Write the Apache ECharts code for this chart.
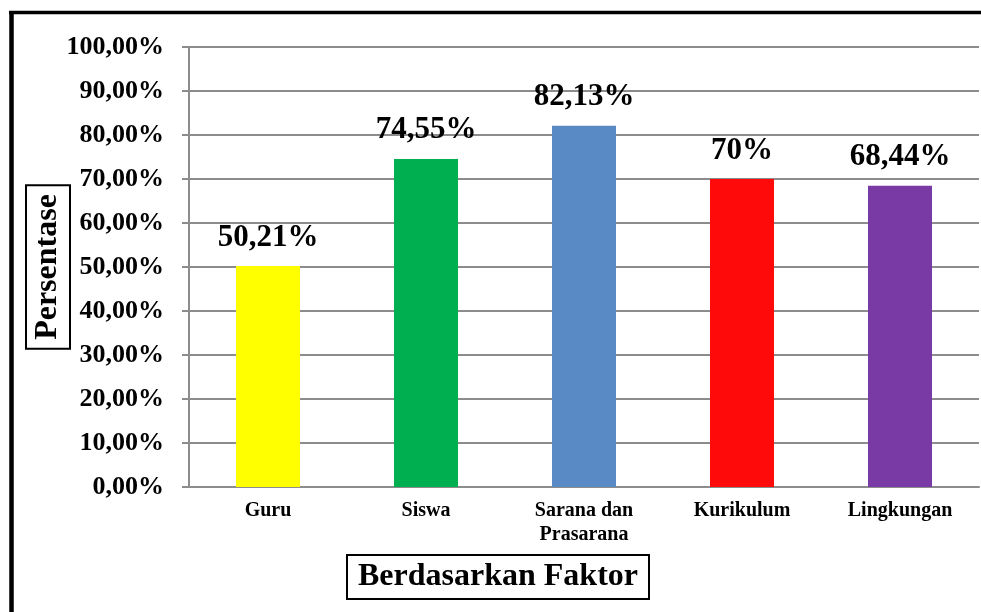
<!DOCTYPE html>
<html>
<head>
<meta charset="utf-8">
<script src="https://cdn.jsdelivr.net/npm/echarts@6/dist/echarts.min.js"></script>
<style>
html,body{margin:0;padding:0;background:#fff;}
#chart{width:981px;height:612px;}
</style>
</head>
<body>
<div id="chart"></div>
<script>
const categories = ['Guru', 'Siswa', 'Sarana dan\nPrasarana', 'Kurikulum', 'Lingkungan'];
const values = [50.21, 74.55, 82.13, 70, 68.44];
const barColors = ['#FFFF00', '#00B050', '#5A8AC6', '#FF0A0A', '#7A3AA6'];
const yTitle = 'Persentase';
const xTitle = 'Berdasarkan Faktor';

const FONT = '"Liberation Serif", "Times New Roman", serif';
const chart = echarts.init(document.getElementById('chart'), null, {renderer: 'canvas'});

chart.setOption({
  animation: false,
  backgroundColor: '#fff',
  title: {
    text: xTitle,
    left: 347,
    top: 555,
    padding: [6, 11],
    borderColor: '#000',
    borderWidth: 2,
    textStyle: {fontFamily: FONT, fontSize: 32, fontWeight: 'bold', color: '#000'}
  },
  grid: {left: 189, right: 2, top: 47, bottom: 125, containLabel: false},
  xAxis: {
    type: 'category',
    data: categories,
    axisLine: {lineStyle: {color: '#8c8c8c', width: 2}},
    axisTick: {show: false},
    axisLabel: {
      interval: 0, margin: 12,
      fontFamily: FONT, fontSize: 20, fontWeight: 'bold', color: '#000', lineHeight: 24
    }
  },
  yAxis: {
    type: 'value',
    min: 0, max: 100, interval: 10,
    name: yTitle,
    nameLocation: 'middle',
    nameRotate: 90,
    nameGap: 119,
    nameMoveOverlap: false,
    nameTextStyle: {
      fontFamily: FONT, fontSize: 32, fontWeight: 'bold', color: '#000',
      borderColor: '#000', borderWidth: 2, padding: [6, 9]
    },
    axisLine: {show: true, lineStyle: {color: '#8c8c8c', width: 2}},
    axisTick: {show: true, length: 7, lineStyle: {color: '#8c8c8c', width: 2}},
    splitLine: {lineStyle: {color: '#8c8c8c', width: 2}},
    axisLabel: {
      margin: 25,
      fontFamily: FONT, fontSize: 26, fontWeight: 'bold', color: '#000',
      formatter: v => v.toFixed(2).replace('.', ',') + '%'
    }
  },
  series: [{
    type: 'bar',
    barWidth: 64,
    data: values.map((v, i) => ({value: v, itemStyle: {color: barColors[i]}})),
    label: {
      show: true, position: 'top', distance: 13,
      fontFamily: FONT, fontSize: 31, fontWeight: 'bold', color: '#000',
      formatter: p => String(p.value).replace('.', ',') + '%'
    }
  }],
  graphic: [
    {type: 'line', shape: {x1: 9, y1: 12.5, x2: 981, y2: 12.5}, style: {stroke: '#000', lineWidth: 3.5}, z: 100},
    {type: 'line', shape: {x1: 11.5, y1: 11, x2: 11.5, y2: 612}, style: {stroke: '#000', lineWidth: 4.5}, z: 100}
  ]
});
</script>
</body>
</html>
